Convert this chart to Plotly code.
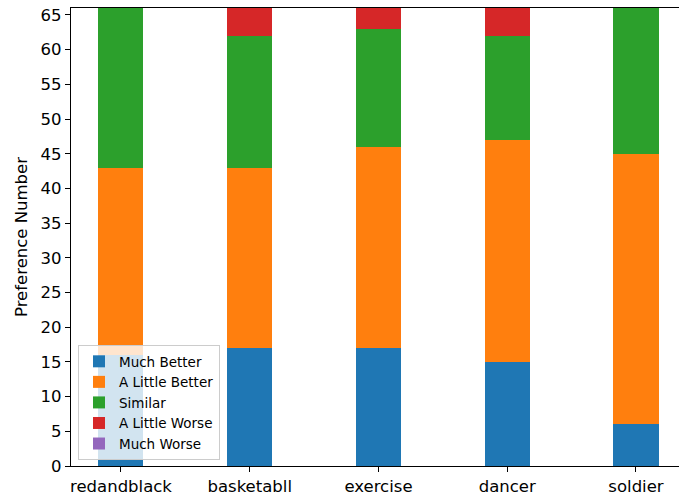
import plotly.graph_objects as go

categories = ["redandblack", "basketabll", "exercise", "dancer", "soldier"]
much_better = [16, 17, 17, 15, 6]
little_better = [27, 26, 29, 32, 39]
similar = [23, 19, 17, 15, 21]
little_worse = [0, 4, 3, 4, 0]
much_worse = [0, 0, 0, 0, 0]

series = [
    ("Much Better", much_better, "#1f77b4"),
    ("A Little Better", little_better, "#ff7f0e"),
    ("Similar", similar, "#2ca02c"),
    ("A Little Worse", little_worse, "#d62728"),
    ("Much Worse", much_worse, "#9467bd"),
]

xpos = list(range(len(categories)))

fig = go.Figure()
for name, vals, color in series:
    fig.add_trace(go.Bar(
        x=xpos, y=vals, name=name, width=0.35,
        marker=dict(color=color, line=dict(width=0)),
    ))

font = "DejaVu Sans"
fig.update_layout(
    barmode="stack",
    width=679, height=500,
    margin=dict(l=71, r=0, t=8, b=34),
    plot_bgcolor="white", paper_bgcolor="white",
    font=dict(family=font, color="black"),
    legend=dict(
        x=0.0115, y=0.013, xanchor="left", yanchor="bottom",
        traceorder="normal",
        bgcolor="rgba(255,255,255,0.8)", bordercolor="#cccccc", borderwidth=1,
        font=dict(size=13.5, family=font),
        tracegroupgap=0, itemwidth=30,
    ),
    xaxis=dict(
        range=[-0.388, 4.334],
        tickmode="array", tickvals=xpos, ticktext=categories,
        ticks="outside", ticklen=5, tickcolor="black",
        showline=True, linecolor="black", linewidth=1.2, mirror=True,
        showgrid=False, zeroline=False,
        tickfont=dict(size=16.5, family=font),
    ),
    yaxis=dict(
        range=[0, 66], dtick=5,
        ticks="outside", ticklen=5, tickcolor="black",
        showline=True, linecolor="black", linewidth=1.2,
        showgrid=False, zeroline=False,
        tickfont=dict(size=16.5, family=font),
        title=dict(text="Preference Number", font=dict(size=16.5, family=font), standoff=8),
    ),
)

fig.write_html("out.html")
